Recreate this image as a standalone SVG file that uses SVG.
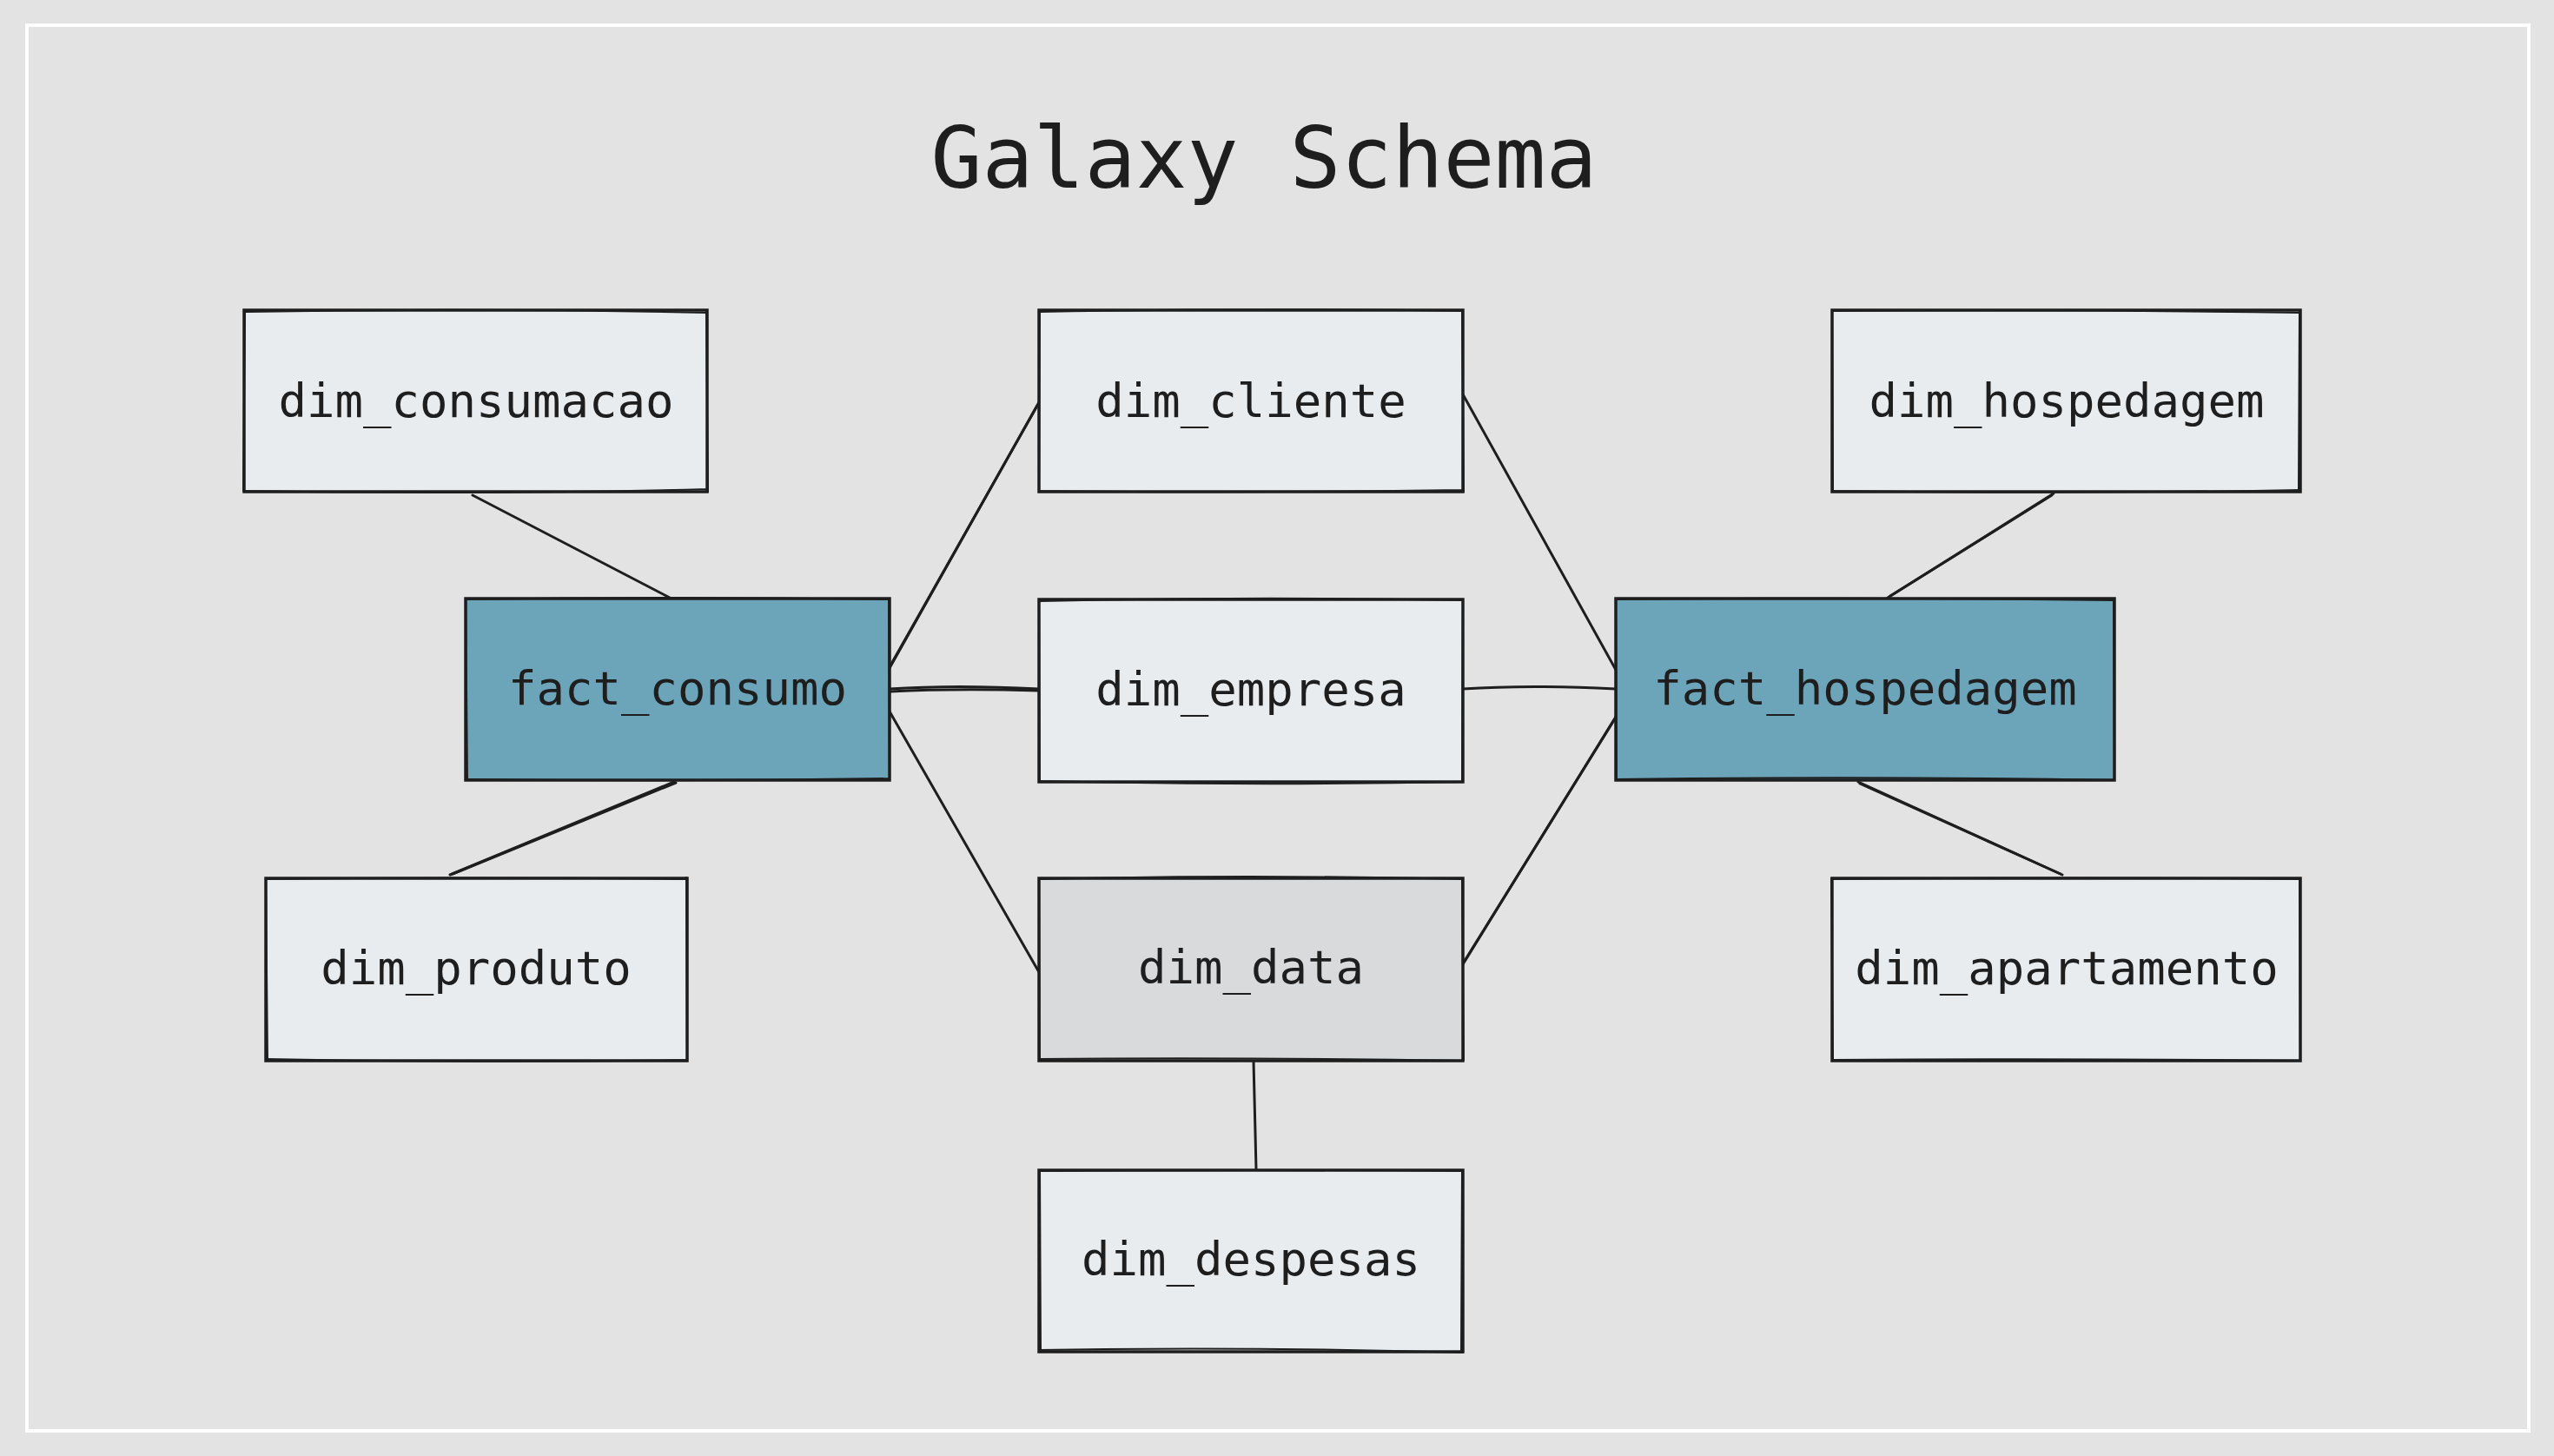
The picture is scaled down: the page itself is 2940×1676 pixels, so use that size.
<svg xmlns="http://www.w3.org/2000/svg" width="2940" height="1676" viewBox="0 0 2940 1676">
<style>
.bg{fill:#e3e3e3}
.frame{fill:none;stroke:#ffffff;stroke-width:4}
.dim{fill:#e8ecef;stroke:#1e1e1e;stroke-width:3.5}
.fact{fill:#6ca5b9;stroke:#1e1e1e;stroke-width:3.5}
.date{fill:#d9dadc;stroke:#1e1e1e;stroke-width:3.5}
.sk{fill:none;stroke:#1e1e1e;stroke-width:2;stroke-linecap:round}
.lbl{font-family:"DejaVu Sans Mono","Liberation Mono",monospace;font-size:54px;fill:#1e1e1e;text-anchor:middle;dominant-baseline:central}
.title{font-family:"DejaVu Sans Mono","Liberation Mono",monospace;font-size:98px;fill:#1e1e1e;text-anchor:middle}
.edge{fill:none;stroke:#1e1e1e;stroke-width:3;stroke-linecap:round}
</style>
<rect class="bg" x="0" y="0" width="2940" height="1676"/>
<rect class="frame" x="31" y="29" width="2880" height="1618"/>
<text class="title" x="1455" y="216">Galaxy Schema</text>

<g id="connectors">
<path class="edge" d="M544 570 L771 688"/>
<path class="edge" d="M776 900 L518 1007"/>
<path class="edge" d="M778 901 L521 1006"/>
<path class="edge" d="M1024 769 L1196 463"/>
<path class="edge" d="M1025 766 L1194 467"/>
<path class="edge" d="M1024 793 Q1100 788 1196 793"/>
<path class="edge" d="M1025 796 Q1100 792 1196 795"/>
<path class="edge" d="M1024 819 L1196 1119"/>
<path class="edge" d="M1684 454 L1860 771"/>
<path class="edge" d="M1684 793 Q1760 788 1860 793"/>
<path class="edge" d="M1684 1110 L1860 825"/>
<path class="edge" d="M1686 1106 L1858 829"/>
<path class="edge" d="M2364 568 L2173 688"/>
<path class="edge" d="M2362 570 L2176 686"/>
<path class="edge" d="M2139 900 L2374 1007"/>
<path class="edge" d="M2141 902 L2372 1006"/>
<path class="edge" d="M1443 1221 L1446 1346"/>
</g>

<g id="dim_consumacao">
<rect class="dim" x="281" y="357" width="533" height="209"/>
<path class="sk" d="M283 359 Q550 354 813 360 M280 565 Q540 570 815 563 M282 358 L280 565 M813 357 L815 566"/>
<text class="lbl" x="548" y="461">dim_consumacao</text>
</g>

<g id="fact_consumo">
<rect class="fact" x="536" y="689" width="488" height="209"/>
<path class="sk" d="M537 690 Q780 686 1023 690 M536 897 Q780 900 1024 896 M536 689 L538 897 M1023 690 L1024 898"/>
<text class="lbl" x="780" y="792">fact_consumo</text>
</g>

<g id="dim_produto">
<rect class="dim" x="306" y="1011" width="485" height="210"/>
<path class="sk" d="M307 1012 Q550 1009 790 1012 M306 1219 Q550 1224 791 1220 M306 1011 L308 1220 M790 1010 L791 1221"/>
<text class="lbl" x="548" y="1114">dim_produto</text>
</g>

<g id="dim_cliente">
<rect class="dim" x="1196" y="357" width="488" height="209"/>
<path class="sk" d="M1197 359 Q1440 354 1683 358 M1196 565 Q1440 568 1684 564 M1197 357 L1196 566 M1683 358 L1685 566"/>
<text class="lbl" x="1440" y="461">dim_cliente</text>
</g>

<g id="dim_empresa">
<rect class="dim" x="1196" y="690" width="488" height="210"/>
<path class="sk" d="M1197 692 Q1440 686 1683 691 M1196 899 Q1440 905 1684 900 M1196 690 L1197 900 M1684 691 L1683 899"/>
<text class="lbl" x="1440" y="793">dim_empresa</text>
</g>

<g id="dim_data">
<rect class="date" x="1196" y="1011" width="488" height="210"/>
<path class="sk" d="M1197 1012 Q1440 1006 1683 1012 M1196 1219 Q1440 1217 1684 1221 M1196 1011 L1197 1221 M1683 1012 L1685 1220"/>
<text class="lbl" x="1440" y="1113">dim_data</text>
</g>

<g id="dim_despesas">
<rect class="dim" x="1196" y="1347" width="488" height="209"/>
<path class="sk" d="M1197 1348 Q1440 1346 1683 1348 M1196 1554 Q1440 1550 1684 1557 M1197 1347 L1198 1556 M1683 1348 L1682 1555"/>
<text class="lbl" x="1440" y="1449">dim_despesas</text>
</g>

<g id="dim_hospedagem">
<rect class="dim" x="2109" y="357" width="539" height="209"/>
<path class="sk" d="M2110 358 Q2380 356 2647 360 M2109 565 Q2380 569 2648 564 M2109 357 L2110 566 M2647 358 L2646 565"/>
<text class="lbl" x="2379" y="461">dim_hospedagem</text>
</g>

<g id="fact_hospedagem">
<rect class="fact" x="1860" y="689" width="574" height="209"/>
<path class="sk" d="M1861 690 Q2150 687 2433 691 M1860 897 Q2150 893 2434 898 M1860 689 L1861 898 M2433 690 L2434 897"/>
<text class="lbl" x="2147" y="792">fact_hospedagem</text>
</g>

<g id="dim_apartamento">
<rect class="dim" x="2109" y="1011" width="539" height="210"/>
<path class="sk" d="M2110 1012 Q2380 1009 2647 1012 M2109 1220 Q2380 1218 2648 1221 M2108 1011 L2110 1220 M2647 1012 L2648 1221"/>
<text class="lbl" x="2379" y="1114">dim_apartamento</text>
</g>
</svg>
